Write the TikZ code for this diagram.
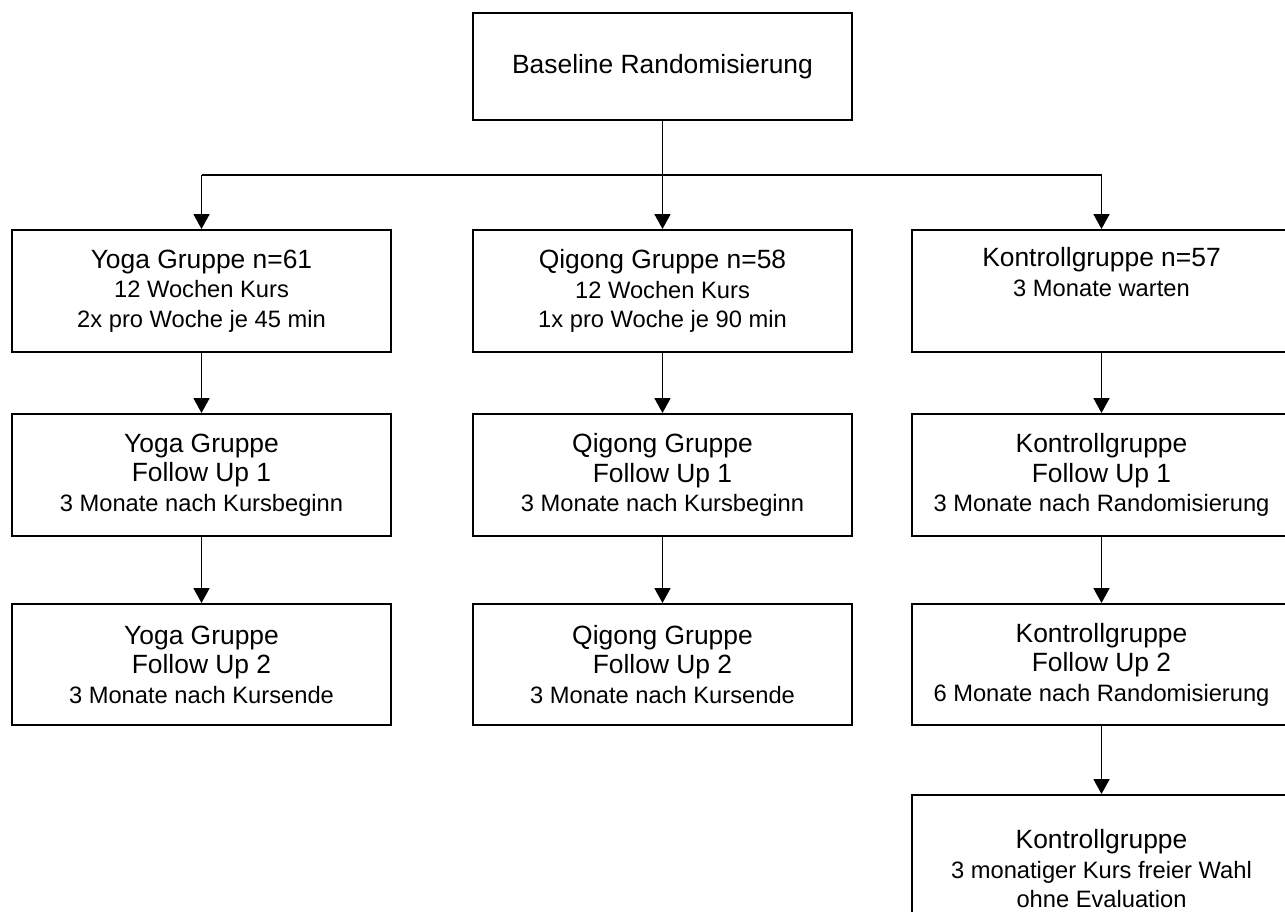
\documentclass[tikz,border=0pt]{standalone}
\usepackage{fontspec}
\setmainfont{Liberation Sans}
\usetikzlibrary{arrows.meta}
\newcommand\bigf{\fontsize{26.4}{29.5}\selectfont}
\newcommand\smf{\fontsize{23.7}{29.5}\selectfont}
\begin{document}
\begin{tikzpicture}[x=1pt,y=-1pt,
  box/.style={draw=black, line width=2pt, minimum width=379pt, minimum height=122pt,
              inner sep=0pt, align=center, font=\smf},
  arr/.style={line width=1.8pt, -{Triangle[width=16pt,length=15pt]}},
  ln/.style={line width=1.8pt}]
\useasboundingbox (0,0) rectangle (1285,911);

\node[box, minimum height=107pt] (top) at (662.5,66.5) {\bigf Baseline Randomisierung};

\node[box] (y1) at (201.5,291) {{\bigf Yoga Gruppe n=61}\\12 Wochen Kurs\\2x pro Woche je 45 min\rule{0pt}{0pt}};
\node[box] (q1) at (662.5,291) {{\bigf Qigong Gruppe n=58}\\12 Wochen Kurs\\1x pro Woche je 90 min};
\node[box] (k1) at (1101.5,291) {{\bigf Kontrollgruppe n=57}\\3 Monate warten\\\strut};

\node[box] (y2) at (201.5,475) {{\bigf Yoga Gruppe}\\{\bigf Follow Up 1}\\3 Monate nach Kursbeginn};
\node[box] (q2) at (662.5,475) {{\bigf Qigong Gruppe}\\{\bigf Follow Up 1}\\3 Monate nach Kursbeginn};
\node[box] (k2) at (1101.5,475) {{\bigf Kontrollgruppe}\\{\bigf Follow Up 1}\\3 Monate nach Randomisierung};

\node[box, minimum height=121pt] (y3) at (201.5,664.5) {{\bigf Yoga Gruppe}\\{\bigf Follow Up 2}\\3 Monate nach Kursende};
\node[box, minimum height=121pt] (q3) at (662.5,664.5) {{\bigf Qigong Gruppe}\\{\bigf Follow Up 2}\\3 Monate nach Kursende};
\node[box, minimum height=121pt] (k3) at (1101.5,664.5) {{\bigf Kontrollgruppe}\\{\bigf Follow Up 2}\\6 Monate nach Randomisierung};

\node[box, minimum height=148pt] (k4) at (1101.5,869) {{\bigf Kontrollgruppe}\\3 monatiger Kurs freier Wahl\\ohne Evaluation};

\coordinate (j) at (662.5,175);
\draw[ln] (j -| y1.north) -- (j -| k1.north);
\draw[arr] (top.south) -- (q1.north);
\draw[arr] (j -| y1.north) -- (y1.north);
\draw[arr] (j -| k1.north) -- (k1.north);

\draw[arr] (y1) -- (y2);
\draw[arr] (y2) -- (y3);
\draw[arr] (q1) -- (q2);
\draw[arr] (q2) -- (q3);
\draw[arr] (k1) -- (k2);
\draw[arr] (k2) -- (k3);
\draw[arr] (k3) -- (k4);
\end{tikzpicture}
\end{document}
